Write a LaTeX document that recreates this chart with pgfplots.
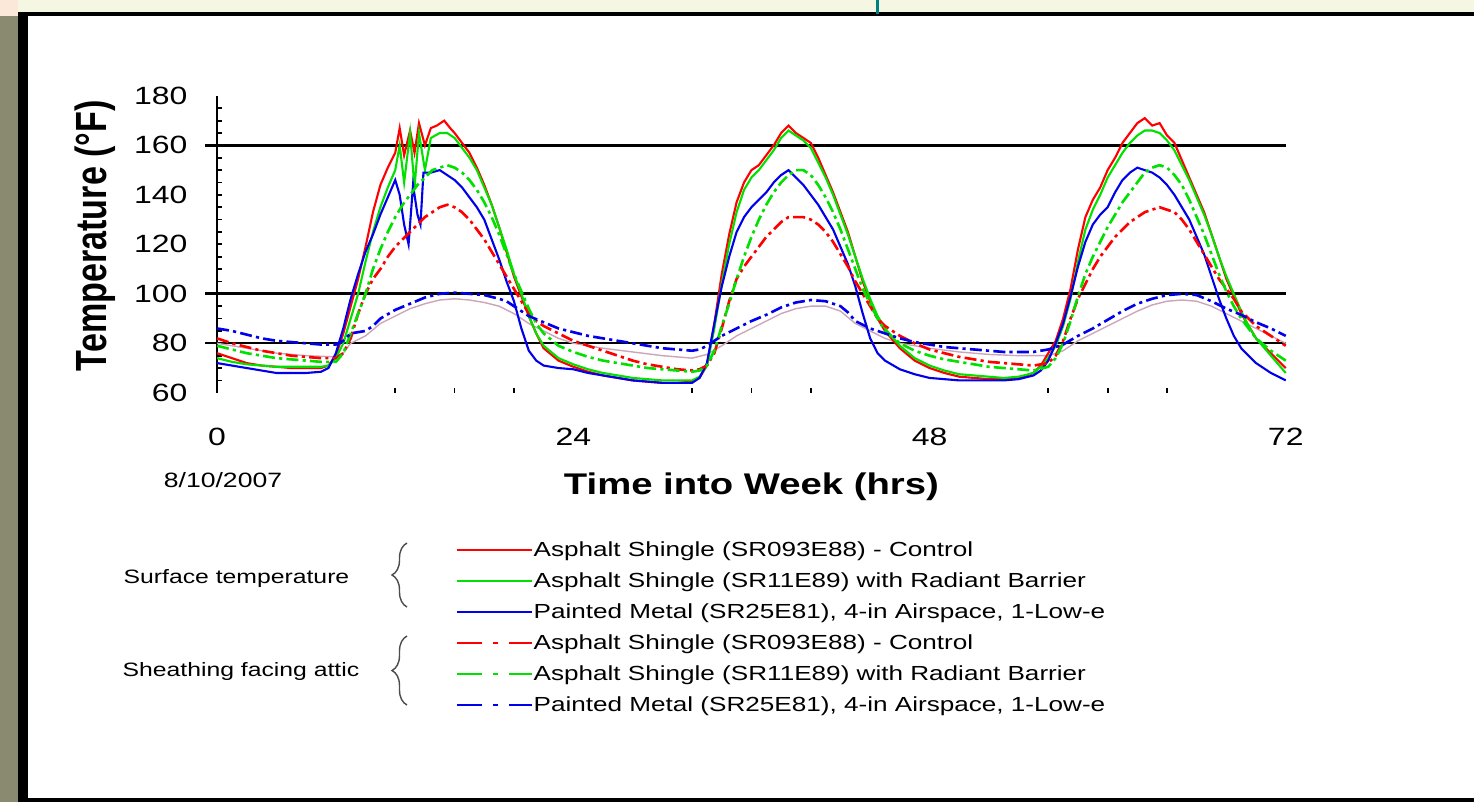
\documentclass[border=0pt]{standalone}
\usepackage{fontspec}
\setmainfont{Liberation Sans}[FakeStretch=1.28]
\newfontfamily\plainsans{Liberation Sans}
\usepackage{pgfplots}
\pgfplotsset{compat=1.18}
\usetikzlibrary{decorations.pathreplacing}

\definecolor{topstrip}{RGB}{245,247,226}
\definecolor{olivebar}{RGB}{138,138,112}
\definecolor{peach}{RGB}{251,232,216}
\definecolor{ored}{RGB}{255,0,0}
\definecolor{ogreen}{RGB}{0,225,0}
\definecolor{oblue}{RGB}{0,0,235}
\definecolor{opink}{RGB}{205,165,185}

\pgfplotsset{
  surf/.style={line width=0.6pt},
  sheath/.style={line width=0.75pt, dash pattern=on 3.4pt off 1.2pt on 0.9pt off 1.2pt},
  sheathleg/.style={legend image code/.code={\draw[##1, dash pattern=on 7pt off 3.2pt on 1.4pt off 3.2pt] (0cm,0cm) -- (0.75cm,0cm);}},
}

\begin{document}
\begin{tikzpicture}
\begin{scope}[x=0.01cm,y=0.01cm]
  \fill[white] (0,0) rectangle (1474,802);
  \useasboundingbox (0,0) rectangle (1474,802);
  \fill[topstrip] (0,790) rectangle (1474,802);
  \fill[peach] (0,786) rectangle (18,802);
  \fill[olivebar] (0,0) rectangle (18,786);
  \fill[black] (18,0) rectangle (28,790);
  \fill[black] (18,786) rectangle (1474,790);
  \fill[black] (18,0) rectangle (1474,4);
  \fill[teal] (876,788) rectangle (879,802);
  % group labels and braces
  \node[anchor=east, inner sep=0pt, font=\fontsize{5.5}{7}\selectfont] at (350,224) {Surface temperature};
  \node[anchor=east, inner sep=0pt, font=\fontsize{5.5}{7}\selectfont] at (360,131) {Sheathing facing attic};
  \draw[black!70, line width=0.4pt, decorate, decoration={brace, amplitude=0.15cm}] (407,195) -- (407,259);
  \draw[black!70, line width=0.4pt, decorate, decoration={brace, amplitude=0.15cm}] (407,97) -- (407,166);
  \node[inner sep=0pt, font=\fontsize{5.9}{7}\selectfont] at (223,322) {8/10/2007};
\end{scope}

\begin{axis}[
  at={(2.17cm,4.09cm)}, anchor=south west,
  scale only axis, width=10.68cm, height=2.967cm,
  xmin=0, xmax=72, ymin=60, ymax=180,
  clip=false,
  axis x line*=bottom, axis y line*=left,
  x axis line style={draw=none},
  y axis line style={-, line width=0.6pt},
  xtick={0,24,48,72},
  minor xtick={12,16,20,32,36,40,56,60,64},
  ytick={60,80,...,180},
  minor ytick={65,70,...,175},
  major tick length=0pt,
  minor tick length=0.05cm,
  minor tick style={line width=0.5pt, black},
  tick align=inside,
  tick label style={font=\fontsize{7.1}{8}\selectfont, /pgf/number format/assume math mode=true},
  yticklabel style={anchor=east, inner sep=0pt, xshift=-0.29cm},
  xticklabel style={anchor=north, inner sep=0pt, yshift=-0.35cm},
  xlabel={\textbf{Time into Week (hrs)}},
  xlabel style={at={(axis description cs:0.5,-0.317)}, anchor=center, font=\fontsize{8.5}{10}\selectfont},
  ylabel={\scalebox{1}[1.28]{\plainsans\bfseries Temperature (°F)}},
  ylabel style={at={(axis description cs:-0.1142,0.529)}, anchor=center, font=\fontsize{9.7}{11}\selectfont},
  legend style={at={(axis description cs:0.2228,-0.492)}, anchor=north west, draw=none, fill=none,
    inner sep=0pt, row sep=2.7pt, font=\fontsize{5.8}{7}\selectfont,
    nodes={inner sep=0pt, text height=4.8pt, text depth=1.3pt}},
  legend cell align=left,
  legend image code/.code={\draw[#1] (0cm,0cm) -- (0.75cm,0cm);},
]
\draw[line width=0.85pt] (axis cs:-0.8,160) -- (axis cs:72,160);
\draw[line width=0.85pt] (axis cs:-0.8,100) -- (axis cs:72,100);
\draw[line width=0.55pt] (axis cs:-0.8,80) -- (axis cs:72,80);

% unlisted faint line
\addplot[opink, line width=0.4pt, forget plot] coordinates {
(0,80)(2,78)(4,76)(6,75)(8,74.5)(8.5,76)(9,80)(10,83)(11,88)(12,91)(13,94)(14,96)(15,97.5)(16,98)(17,97.5)(18,96.5)(19,95)(20,92)(21,88)(22,85)(23,82)(24,80)(26,78)(28,76.5)(30,75)(32,74)(33,75.5)(34,79)(35,83)(36,86)(37,89)(38,92)(39,94)(40,95)(41,95)(42,93)(43,88)(44,85)(45,82)(46,80)(48,78)(50,76.5)(52,75.5)(54,75)(56,75)(57,77)(58,81)(59,84)(60,87)(61,90)(62,93)(63,95.5)(64,97)(65,97.5)(66,97)(67,95)(68,92)(69,89)(70,86)(71,83)(72,80)};

% surface: asphalt control
\addplot[ored, surf] coordinates {
(0,76)(1,74)(2,72)(3,71)(4,70.5)(5,70)(6,70)(7,70)(7.5,71)(8,75)(8.5,84)(9,95)(9.5,106)(10,119)(10.5,133)(11,144)(11.5,151)(12,157)(12.3,167)(12.6,156)(13,166)(13.3,157)(13.6,169)(14,160)(14.4,167)(14.8,168)(15.3,170)(15.7,167)(16,165)(16.5,161)(17,157)(17.5,151)(18,144)(18.5,136)(19,127)(19.5,117)(20,107)(20.5,99)(21,91)(21.5,84)(22,78)(23,73)(24,70.5)(25,68.5)(26,67)(27,66)(28,65)(29,64.5)(30,64)(31,64)(32,64.5)(32.5,66)(33,71)(33.5,88)(34,108)(34.5,124)(35,137)(35.5,145)(36,150)(36.5,152)(37,156)(37.5,160)(38,165)(38.5,168)(39,165)(39.5,163)(40,161)(40.5,155)(41,148)(41.5,141)(42,133)(42.5,125)(43,115)(43.5,105)(44,97)(44.5,90)(45,85)(46,78)(47,73)(48,70)(49,68)(50,66.5)(51,66)(52,65.5)(53,65.5)(54,66)(55,68)(55.5,71)(56,76)(56.5,81)(57,90)(57.5,102)(58,118)(58.5,131)(59,138)(59.5,143)(60,150)(60.5,155)(61,161)(61.5,165)(62,169)(62.5,171)(63,168)(63.5,169)(64,164)(64.5,161)(65,154)(65.5,147)(66,140)(66.5,133)(67,124)(67.5,115)(68,106)(68.5,99)(69,92)(69.5,87)(70,82)(71,76)(72,70)};
\addlegendentry{Asphalt Shingle (SR093E88) - Control}

% surface: asphalt with radiant barrier
\addplot[ogreen, surf] coordinates {
(0,74)(1,72.5)(2,71.5)(3,71)(4,70.5)(5,70.5)(6,70.5)(7,70.5)(7.5,71)(8,74)(8.5,80)(9,90)(9.5,100)(10,113)(10.5,125)(11,135)(11.5,143)(12,150)(12.3,160)(12.6,145)(13,165)(13.3,143)(13.6,165)(14,150)(14.4,163)(15,165)(15.5,165)(16,163)(16.5,159)(17,155)(17.5,150)(18,143)(18.5,136)(19,127)(19.5,118)(20,108)(20.5,100)(21,91)(21.5,84)(22,79)(23,74)(24,71.5)(25,69.5)(26,68)(27,67)(28,66)(29,65.5)(30,65)(31,65)(32,65)(32.5,66.5)(33,71)(33.5,86)(34,104)(34.5,120)(35,133)(35.5,142)(36,147)(36.5,150)(37,154)(37.5,158)(38,163)(38.5,166)(39,164)(39.5,162)(40,159)(40.5,153)(41,147)(41.5,140)(42,132)(42.5,124)(43,115)(43.5,106)(44,98)(44.5,91)(45,86)(46,79)(47,74)(48,71)(49,69)(50,67.5)(51,67)(52,66.5)(53,66)(54,66.5)(55,68)(55.5,70.5)(56,74)(56.5,79)(57,87)(57.5,98)(58,113)(58.5,126)(59,134)(59.5,140)(60,147)(60.5,152)(61,157)(61.5,161)(62,164)(62.5,166)(63,166)(63.5,165)(64,162)(64.5,158)(65,152)(65.5,146)(66,139)(66.5,132)(67,124)(67.5,115)(68,107)(68.5,100)(69,93)(69.5,87)(70,82)(71,75)(72,68)};
\addlegendentry{Asphalt Shingle (SR11E89) with Radiant Barrier}

% surface: painted metal
\addplot[oblue, surf] coordinates {
(0,72)(1,71)(2,70)(3,69)(4,68)(5,68)(6,68)(7,68.5)(7.5,70)(8,76)(8.5,86)(9,98)(9.5,108)(10,117)(10.5,124)(11,132)(11.5,139)(12,146)(12.3,140)(12.6,128)(12.9,120)(13.2,144)(13.5,132)(13.7,128)(13.9,149)(14.4,149)(15,150)(15.5,148)(16,146)(16.5,143)(17,139)(17.5,135)(18,130)(18.5,122)(19,114)(19.5,105)(20,97)(20.5,86)(21,77)(21.5,73)(22,71)(23,70)(24,69.5)(25,68)(26,67)(27,66)(28,65)(29,64.5)(30,64)(31,64)(32,64)(32.5,66)(33,72)(33.5,88)(34,103)(34.5,115)(35,125)(35.5,131)(36,135)(36.5,138)(37,141)(37.5,145)(38,148)(38.5,150)(39,147)(39.5,144)(40,140)(40.5,136)(41,131)(41.5,126)(42,119)(42.5,112)(43,103)(43.5,92)(44,82)(44.5,76)(45,73)(46,69.5)(47,67.5)(48,66)(49,65.5)(50,65)(51,65)(52,65)(53,65)(54,65.5)(55,67)(55.5,69)(56,73)(56.5,80)(57,88)(57.5,99)(58,111)(58.5,121)(59,128)(59.5,132)(60,135)(60.5,141)(61,146)(61.5,149)(62,151)(62.5,150)(63,149)(63.5,147)(64,144)(64.5,140)(65,135)(65.5,130)(66,123)(66.5,116)(67,107)(67.5,98)(68,90)(68.5,83)(69,78)(70,72)(71,68)(72,65)};
\addlegendentry{Painted Metal (SR25E81), 4-in Airspace, 1-Low-e}

% sheathing: asphalt control
\addplot[ored, sheath, sheathleg] coordinates {
(0,82)(1,80)(2,78.5)(3,77)(4,76)(5,75)(6,74.5)(7,74)(8,74)(8.5,76)(9,82)(9.5,92)(10,100)(10.5,106)(11,110)(11.5,115)(12,119)(12.5,122)(13,125)(13.5,128)(14,131)(14.5,133)(15,135)(15.5,136)(16,135)(16.5,133)(17,130)(17.5,126)(18,122)(18.5,117)(19,112)(19.5,107)(20,102)(20.5,97)(21,92)(21.5,89)(22,87)(23,84)(24,81)(25,79)(26,77)(27,75)(28,73)(29,71.5)(30,70.5)(31,69.5)(32,69)(32.5,69.5)(33,71)(33.5,76)(34,86)(34.5,97)(35,106)(35.5,111)(36,115)(36.5,119)(37,123)(37.5,126)(38,129)(38.5,131)(39,131)(39.5,131)(40,130)(40.5,128)(41,125)(41.5,121)(42,116)(42.5,111)(43,105)(43.5,100)(44,95)(44.5,90)(45,87)(46,83)(47,80)(48,77.5)(49,76)(50,74.5)(51,73.5)(52,72.5)(53,72)(54,71.5)(55,71)(56,72)(56.5,75)(57,81)(57.5,90)(58,98)(58.5,104)(59,110)(59.5,115)(60,119)(60.5,123)(61,126)(61.5,129)(62,131)(62.5,133)(63,134)(63.5,135)(64,134)(64.5,133)(65,130)(65.5,126)(66,121)(66.5,116)(67,111)(67.5,106)(68,102)(68.5,98)(69,93)(69.5,90)(70,87)(71,83)(72,79)};
\addlegendentry{Asphalt Shingle (SR093E88) - Control}

% sheathing: asphalt with radiant barrier
\addplot[ogreen, sheath, sheathleg] coordinates {
(0,79)(1,77.5)(2,76)(3,75)(4,74)(5,73.5)(6,73)(7,72.5)(8,72.5)(8.5,76)(9,84)(9.5,92)(10,100)(10.5,110)(11,118)(11.5,125)(12,131)(12.5,136)(13,140)(13.5,144)(14,147)(14.5,150)(15,151)(15.5,152)(16,151)(16.5,149)(17,146)(17.5,142)(18,137)(18.5,131)(19,124)(19.5,116)(20,108)(20.5,101)(21,94)(21.5,88)(22,84)(23,79)(24,76.5)(25,74.5)(26,73)(27,72)(28,71)(29,70)(30,69.5)(31,69)(32,68.5)(32.5,69)(33,71)(33.5,77)(34,87)(34.5,96)(35,106)(35.5,115)(36,123)(36.5,130)(37,136)(37.5,141)(38,145)(38.5,148)(39,150)(39.5,150)(40,148)(40.5,144)(41,139)(41.5,133)(42,126)(42.5,118)(43,110)(43.5,102)(44,96)(44.5,90)(45,85)(46,80)(47,77)(48,75)(49,73.5)(50,72.5)(51,71.5)(52,70.5)(53,70)(54,69.5)(55,69)(56,70.5)(56.5,74)(57,80)(57.5,89)(58,99)(58.5,108)(59,115)(59.5,121)(60,127)(60.5,132)(61,137)(61.5,141)(62,145)(62.5,149)(63,151)(63.5,152)(64,151)(64.5,148)(65,144)(65.5,138)(66,131)(66.5,124)(67,116)(67.5,108)(68,101)(68.5,95)(69,90)(69.5,86)(70,82)(71,77)(72,73)};
\addlegendentry{Asphalt Shingle (SR11E89) with Radiant Barrier}

% sheathing: painted metal
\addplot[oblue, sheath, sheathleg] coordinates {
(0,86)(1,85)(2,83.5)(3,82)(4,81)(5,80.5)(6,80)(7,79.5)(8,79.5)(8.5,81)(9,84)(10,85)(10.5,87)(11,90)(12,93.5)(13,96)(14,98.5)(15,100)(16,100.5)(17,100)(18,99.5)(19,98)(19.5,97)(20,95)(20.5,93)(21,91)(22,88.5)(23,86)(24,84.5)(25,83)(26,82)(27,81)(28,80)(29,79)(30,78)(31,77.5)(32,77)(32.5,77.5)(33,79)(33.5,81)(34,83)(35,86)(36,89)(37,91.5)(38,94.5)(39,96.5)(40,97.5)(41,97)(42,95)(42.5,92.5)(43,89)(44,86)(45,84)(46,82)(47,80.5)(48,79.5)(49,78.5)(50,78)(51,77.5)(52,77)(53,76.5)(54,76.5)(55,76.5)(56,77.5)(57,79.5)(58,83)(59,86)(60,89.5)(61,93)(62,96)(63,98)(64,99.5)(65,100)(66,99.5)(67,97)(68,94)(69,91.5)(70,88.5)(71,86)(72,83)};
\addlegendentry{Painted Metal (SR25E81), 4-in Airspace, 1-Low-e}
\end{axis}
\end{tikzpicture}
\end{document}
